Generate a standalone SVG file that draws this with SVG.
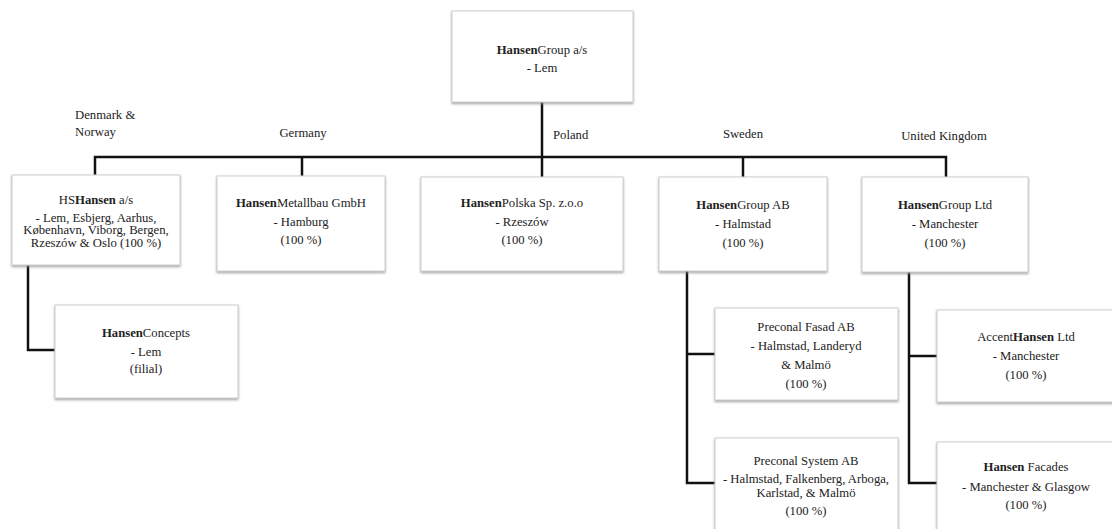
<svg xmlns="http://www.w3.org/2000/svg" width="1112" height="529" viewBox="0 0 1112 529" font-family="'Liberation Serif', 'Times New Roman', 'DejaVu Serif', serif">
<defs>
<filter id="sh" x="-5%" y="-5%" width="110%" height="115%">
<feDropShadow dx="0" dy="1.5" stdDeviation="0.8" flood-color="#8a8a8a" flood-opacity="0.8"/>
</filter>
<style>
text{font-family:'Liberation Serif','Times New Roman','DejaVu Serif',serif;font-size:12.7px;fill:#222;text-anchor:middle}
.b{font-weight:bold}
.st{text-anchor:start}
.box{fill:#fff;stroke:#cfcfcf;stroke-width:1;filter:url(#sh)}
.con{fill:none;stroke:#111;stroke-width:2.5}
</style>
</defs>
<rect width="1112" height="529" fill="#fff"/>
<g id="connectors">
<path class="con" d="M542,102 V177"/>
<path class="con" d="M95,175 V157 H946 V177"/>
<path class="con" d="M302,157 V176"/>
<path class="con" d="M743,157 V177"/>
<path class="con" d="M28,265 V350 H55"/>
<path class="con" d="M687,271 V483 H715 M687,354 H715"/>
<path class="con" d="M909,272 V483 H937 M909,356 H937"/>
</g>
<g id="labels">
<text x="75" y="119" class="st">Denmark &amp;</text>
<text x="75" y="136" class="st">Norway</text>
<text x="303" y="137">Germany</text>
<text x="553" y="139" class="st">Poland</text>
<text x="743" y="138">Sweden</text>
<text x="944" y="140">United Kingdom</text>
</g>
<g id="n-group-as">
<rect class="box" x="452" y="11" width="181" height="91"/>
<text x="542" y="54"><tspan class="b">Hansen</tspan>Group a/s</text>
<text x="542" y="72">- Lem</text>
</g>
<g id="n-hshansen">
<rect class="box" x="12" y="175" width="168" height="90"/>
<text x="96" y="204">HS<tspan class="b">Hansen</tspan> a/s</text>
<text x="96" y="222">- Lem, Esbjerg, Aarhus,</text>
<text x="96" y="234">København, Viborg, Bergen,</text>
<text x="96" y="247">Rzeszów &amp; Oslo (100 %)</text>
</g>
<g id="n-metallbau">
<rect class="box" x="217" y="176" width="168" height="95"/>
<text x="301" y="207"><tspan class="b">Hansen</tspan>Metallbau GmbH</text>
<text x="301" y="226">- Hamburg</text>
<text x="301" y="244">(100 %)</text>
</g>
<g id="n-polska">
<rect class="box" x="421" y="177" width="202" height="94"/>
<text x="522" y="207"><tspan class="b">Hansen</tspan>Polska Sp. z.o.o</text>
<text x="522" y="226">- Rzeszów</text>
<text x="522" y="244">(100 %)</text>
</g>
<g id="n-group-ab">
<rect class="box" x="659" y="177" width="168" height="94"/>
<text x="743" y="209"><tspan class="b">Hansen</tspan>Group AB</text>
<text x="743" y="228">- Halmstad</text>
<text x="743" y="247">(100 %)</text>
</g>
<g id="n-group-ltd">
<rect class="box" x="862" y="177" width="166" height="95"/>
<text x="945" y="209"><tspan class="b">Hansen</tspan>Group Ltd</text>
<text x="945" y="228">- Manchester</text>
<text x="945" y="247">(100 %)</text>
</g>
<g id="n-concepts">
<rect class="box" x="55" y="305" width="183" height="93"/>
<text x="146" y="337"><tspan class="b">Hansen</tspan>Concepts</text>
<text x="146" y="356">- Lem</text>
<text x="146" y="373">(filial)</text>
</g>
<g id="n-fasad">
<rect class="box" x="715" y="308" width="183" height="92"/>
<text x="806" y="331">Preconal Fasad AB</text>
<text x="806" y="350">- Halmstad, Landeryd</text>
<text x="806" y="369">&amp; Malmö</text>
<text x="806" y="388">(100 %)</text>
</g>
<g id="n-system">
<rect class="box" x="715" y="438" width="183" height="100"/>
<text x="806" y="465">Preconal System AB</text>
<text x="806" y="483">- Halmstad, Falkenberg, Arboga,</text>
<text x="806" y="497">Karlstad, &amp; Malmö</text>
<text x="806" y="515">(100 %)</text>
</g>
<g id="n-accent">
<rect class="box" x="937" y="310" width="180" height="92"/>
<text x="1026" y="341">Accent<tspan class="b">Hansen</tspan> Ltd</text>
<text x="1026" y="360">- Manchester</text>
<text x="1026" y="379">(100 %)</text>
</g>
<g id="n-facades">
<rect class="box" x="937" y="442" width="180" height="100"/>
<text x="1026" y="471"><tspan class="b">Hansen</tspan> Facades</text>
<text x="1026" y="491">- Manchester &amp; Glasgow</text>
<text x="1026" y="509">(100 %)</text>
</g>
</svg>
